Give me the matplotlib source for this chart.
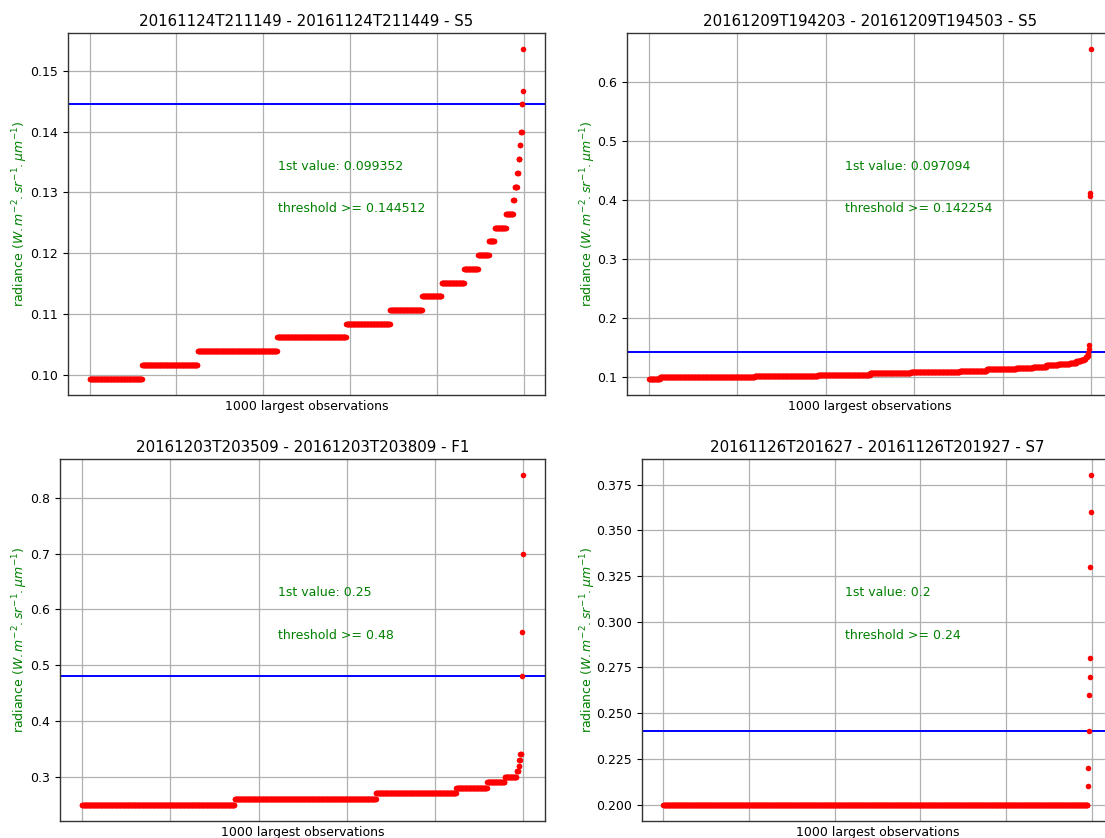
import numpy as np
import matplotlib
matplotlib.use("Agg")
import matplotlib.pyplot as plt

# ---- data: step levels and how many of the 1000 largest observations sit on each ----
tl_levels = [0.099352, 0.101610, 0.103868, 0.106126, 0.108384, 0.110642, 0.112900,
             0.115158, 0.117416, 0.119674, 0.121932, 0.124190, 0.126448, 0.128706,
             0.130964, 0.133222, 0.135480, 0.137738, 0.139996, 0.144512, 0.146770,
             0.153544]
tl_counts = [121, 128, 183, 159, 101, 74, 45, 52, 32, 25, 13, 26, 17, 3, 6, 3, 3, 2, 3, 2, 1, 1]
tl_threshold = 0.144512
tl_first = "0.099352"
tl_thr_txt = "0.144512"

tr_levels = [0.097094, 0.099352, 0.101610, 0.103868, 0.106126, 0.108384, 0.110642,
             0.112900, 0.115158, 0.117416, 0.119674, 0.121932, 0.124190, 0.126448,
             0.128706, 0.130964, 0.133222, 0.135480, 0.137738, 0.139996, 0.146770,
             0.153544, 0.4068, 0.4119, 0.6560]
tr_counts = [25, 214, 143, 118, 92, 111, 61, 67, 38, 30, 27, 26, 15, 10, 7, 4, 3, 2,
             1, 1, 1, 1, 1, 1, 1]
tr_threshold = 0.142254
tr_first = "0.097094"
tr_thr_txt = "0.142254"

bl_levels = [0.25, 0.26, 0.27, 0.28, 0.29, 0.30, 0.31, 0.32, 0.33, 0.34, 0.48, 0.56, 0.70, 0.84]
bl_counts = [346, 320, 182, 70, 40, 27, 4, 2, 2, 3, 1, 1, 1, 1]
bl_threshold = 0.48
bl_first = "0.25"
bl_thr_txt = "0.48"

br_levels = [0.20, 0.21, 0.22, 0.24, 0.26, 0.27, 0.28, 0.33, 0.36, 0.38]
br_counts = [991, 1, 1, 1, 1, 1, 1, 1, 1, 1]
br_threshold = 0.24
br_first = "0.2"
br_thr_txt = "0.24"

titles = ["20161124T211149 - 20161124T211449 - S5",
          "20161209T194203 - 20161209T194503 - S5",
          "20161203T203509 - 20161203T203809 - F1",
          "20161126T201627 - 20161126T201927 - S7"]

W, H = 1105, 838
fig = plt.figure(figsize=(W / 100, H / 100), dpi=100)

def px_rect(left, top, right, bottom):
    return [left / W, 1 - bottom / H, (right - left) / W, (bottom - top) / H]

rects = [px_rect(68, 33, 545, 395), px_rect(627, 33, 1112.7, 395),
         px_rect(60, 459, 545, 821), px_rect(642, 459, 1112.7, 821)]
panels = [(tl_levels, tl_counts, tl_threshold, tl_first, tl_thr_txt),
          (tr_levels, tr_counts, tr_threshold, tr_first, tr_thr_txt),
          (bl_levels, bl_counts, bl_threshold, bl_first, bl_thr_txt),
          (br_levels, br_counts, br_threshold, br_first, br_thr_txt)]
text_pos = [(278, 166, 209), (845, 166, 209), (278, 592, 635), (845, 592, 635)]
yticks = [np.arange(0.10, 0.151, 0.01), np.arange(0.1, 0.61, 0.1),
          np.arange(0.3, 0.81, 0.1), np.arange(0.200, 0.3751, 0.025)]
yfmt = ["{:.2f}", "{:.1f}", "{:.1f}", "{:.3f}"]
ylabel_x = [30, 598, 30, 598]

for i, (rect, (levels, counts, thr, first, thr_txt)) in enumerate(zip(rects, panels)):
    ax = fig.add_axes(rect)
    y = np.repeat(levels, counts)
    x = np.arange(len(y))
    ax.plot(x, y, 'o', color='#ff0000', markersize=4.0, markeredgewidth=0, zorder=3)
    ax.axhline(thr, color='#0000ff', linewidth=1.4, zorder=2)
    ax.set_xlim(-49.95, 1048.95)
    ax.set_xticks(np.arange(0, 1001, 200))
    ax.set_xticklabels([])
    ax.tick_params(axis='x', length=0)
    ax.set_yticks(yticks[i])
    ax.set_yticklabels([yfmt[i].format(v) for v in yticks[i]])
    ax.tick_params(axis='y', labelsize=9, length=3.5, width=0.8)
    ax.grid(True, color='#b0b0b0', linewidth=0.9)
    ax.set_axisbelow(True)
    for s in ax.spines.values():
        s.set_color('#333333')
        s.set_linewidth(1.0)
    ax.set_title(titles[i], fontsize=10.8, pad=5)
    ax.set_xlabel("1000 largest observations", fontsize=9, labelpad=0)
    ax.set_ylabel(r"radiance ($W.m^{-2}.sr^{-1}.\mu m^{-1}$)", fontsize=9, color='green')
    lx = (ylabel_x[i] - (rect[0] * W)) / (rect[2] * W)
    ax.yaxis.set_label_coords(lx, 0.5)
    tx, ty1, ty2 = text_pos[i]
    fig.text(tx / W, 1 - ty1 / H, "1st value: " + first, color='green', fontsize=9,
             va='center', ha='left')
    fig.text(tx / W, 1 - ty2 / H, "threshold >= " + thr_txt, color='green', fontsize=9,
             va='center', ha='left')

fig.savefig("out.png", dpi=100)
